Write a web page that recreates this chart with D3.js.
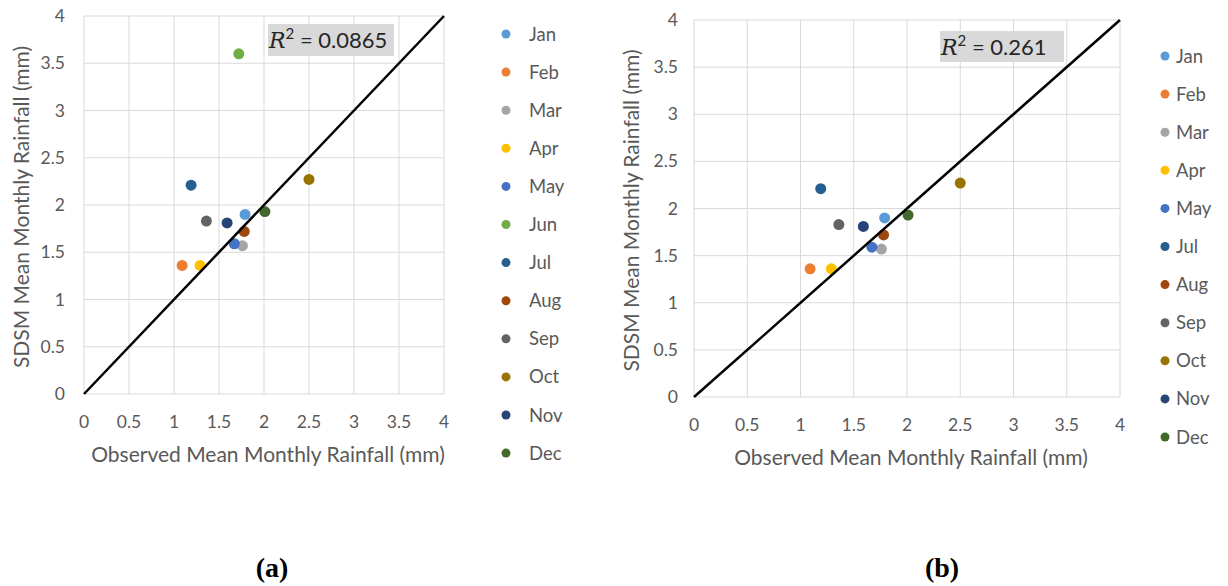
<!DOCTYPE html>
<html>
<head>
<meta charset="utf-8">
<script src="https://cdn.jsdelivr.net/npm/d3@7"></script>
<style>
  body { margin: 0; background: #fff; }
  text { font-family: Lato, 'Open Sans', sans-serif; fill: #595959; }
</style>
</head>
<body>
<div id="chart"></div>
<script>
// data
var months = ['Jan', 'Feb', 'Mar', 'Apr', 'May', 'Jun', 'Jul', 'Aug', 'Sep', 'Oct', 'Nov', 'Dec']
var monthColors = ['#5b9bd5', '#ed7d31', '#a5a5a5', '#ffc000', '#4472c4', '#70ad47',
  '#255e91', '#9e480e', '#636363', '#997300', '#264478', '#43682b']
var observed = [1.79, 1.09, 1.76, 1.29, 1.67, 1.72, 1.19, 1.78, 1.36, 2.50, 1.59, 2.01]
var sdsm = [1.90, 1.36, 1.57, 1.36, 1.59, 3.60, 2.21, 1.72, 1.83, 2.27, 1.81, 1.93]
var monthsB = ['Jan', 'Feb', 'Mar', 'Apr', 'May', 'Jul', 'Aug', 'Sep', 'Oct', 'Nov', 'Dec']
var axisTicks = [0, 0.5, 1, 1.5, 2, 2.5, 3, 3.5, 4]
var r2a = '0.0865'
var r2b = '0.261'

var svg = d3.select('#chart')
  .append('svg')
  .attr('width', 1228)
  .attr('height', 586)

svg.append('rect').attr('width', 1228).attr('height', 586).attr('fill', '#fff')

function drawPanel(opt) {
  var x = d3.scaleLinear().domain([0, 4]).range([opt.left, opt.right])
  var y = d3.scaleLinear().domain([0, 4]).range([opt.bottom, opt.top])
  var g = svg.append('g')

  // gridlines
  g.selectAll('.vgrid').data(axisTicks).enter().append('line')
    .attr('x1', d => x(d)).attr('x2', d => x(d))
    .attr('y1', y(0)).attr('y2', y(4))
    .attr('stroke', '#d9d9d9').attr('stroke-width', 1)
  g.selectAll('.hgrid').data(axisTicks).enter().append('line')
    .attr('x1', x(0)).attr('x2', x(4))
    .attr('y1', d => y(d)).attr('y2', d => y(d))
    .attr('stroke', '#d9d9d9').attr('stroke-width', 1)

  // tick labels
  g.selectAll('.xt').data(axisTicks).enter().append('text')
    .attr('x', d => x(d)).attr('y', y(0) + 34)
    .attr('text-anchor', 'middle').attr('font-size', 17.5)
    .text(d => d)
  g.selectAll('.yt').data(axisTicks).enter().append('text')
    .attr('x', x(0) - opt.yTickGap).attr('y', d => y(d) + 6)
    .attr('text-anchor', 'end').attr('font-size', 17.5)
    .text(d => d)

  // axis titles
  g.append('text')
    .attr('x', (x(0) + x(4)) / 2 + 4).attr('y', y(0) + 68)
    .attr('text-anchor', 'middle').attr('font-size', 21)
    .text('Observed Mean Monthly Rainfall (mm)')
  g.append('text')
    .attr('transform', 'translate(' + (x(0) - 55) + ',' + ((y(0) + y(4)) / 2 + 2) + ') rotate(-90)')
    .attr('text-anchor', 'middle').attr('font-size', 21)
    .text('SDSM Mean Monthly Rainfall (mm)')

  // points
  var pts = opt.months.map(m => {
    var i = months.indexOf(m)
    return { m: m, x: observed[i], y: sdsm[i], c: monthColors[i] }
  })
  g.selectAll('.pt').data(pts).enter().append('circle')
    .attr('cx', d => x(d.x)).attr('cy', d => y(d.y))
    .attr('r', 5.5).attr('fill', d => d.c)

  // 1:1 line
  g.append('line')
    .attr('x1', x(0)).attr('y1', y(0)).attr('x2', x(4)).attr('y2', y(4))
    .attr('stroke', '#000').attr('stroke-width', 2.5)

  // R^2 label
  g.append('rect')
    .attr('x', opt.box[0]).attr('y', opt.box[1])
    .attr('width', opt.box[2]).attr('height', opt.box[3])
    .attr('fill', '#d9d9d9')
  var t = g.append('text')
    .attr('x', opt.box[0] + 1).attr('y', opt.box[1] + 24)
    .attr('font-size', 22).style('fill', '#262626')
  t.append('tspan').text('R').style('font-family', 'DejaVu Serif').style('font-style', 'italic')
  t.append('tspan').text('2').attr('dy', -9).attr('font-size', 15)
  t.append('tspan').text(' = ' + opt.r2).attr('dy', 9)

  // legend
  var leg = g.selectAll('.leg').data(pts).enter().append('g')
    .attr('transform', (d, i) => 'translate(' + opt.legX + ',' + (opt.legY + i * opt.legStep) + ')')
  leg.append('circle').attr('r', 4.5).attr('fill', d => d.c)
  leg.append('text').attr('x', opt.legText).attr('y', 6.5)
    .attr('font-size', 18.5).text(d => d.m)
}

drawPanel({
  left: 84, right: 444, top: 16, bottom: 394, yTickGap: 19,
  months: months, r2: r2a, box: [268, 24, 126, 32],
  legX: 506, legY: 34, legStep: 38.1, legText: 23
})
drawPanel({
  left: 694, right: 1120, top: 20, bottom: 397, yTickGap: 16,
  months: monthsB, r2: r2b, box: [940, 31, 124, 31],
  legX: 1165, legY: 56, legStep: 38.1, legText: 11
})

// panel captions
svg.append('text').attr('x', 272).attr('y', 577)
  .attr('text-anchor', 'middle').attr('font-size', 28).attr('font-weight', 'bold')
  .style('font-family', 'Liberation Serif').style('fill', '#000').text('(a)')
svg.append('text').attr('x', 942).attr('y', 577)
  .attr('text-anchor', 'middle').attr('font-size', 28).attr('font-weight', 'bold')
  .style('font-family', 'Liberation Serif').style('fill', '#000').text('(b)')
</script>
</body>
</html>
